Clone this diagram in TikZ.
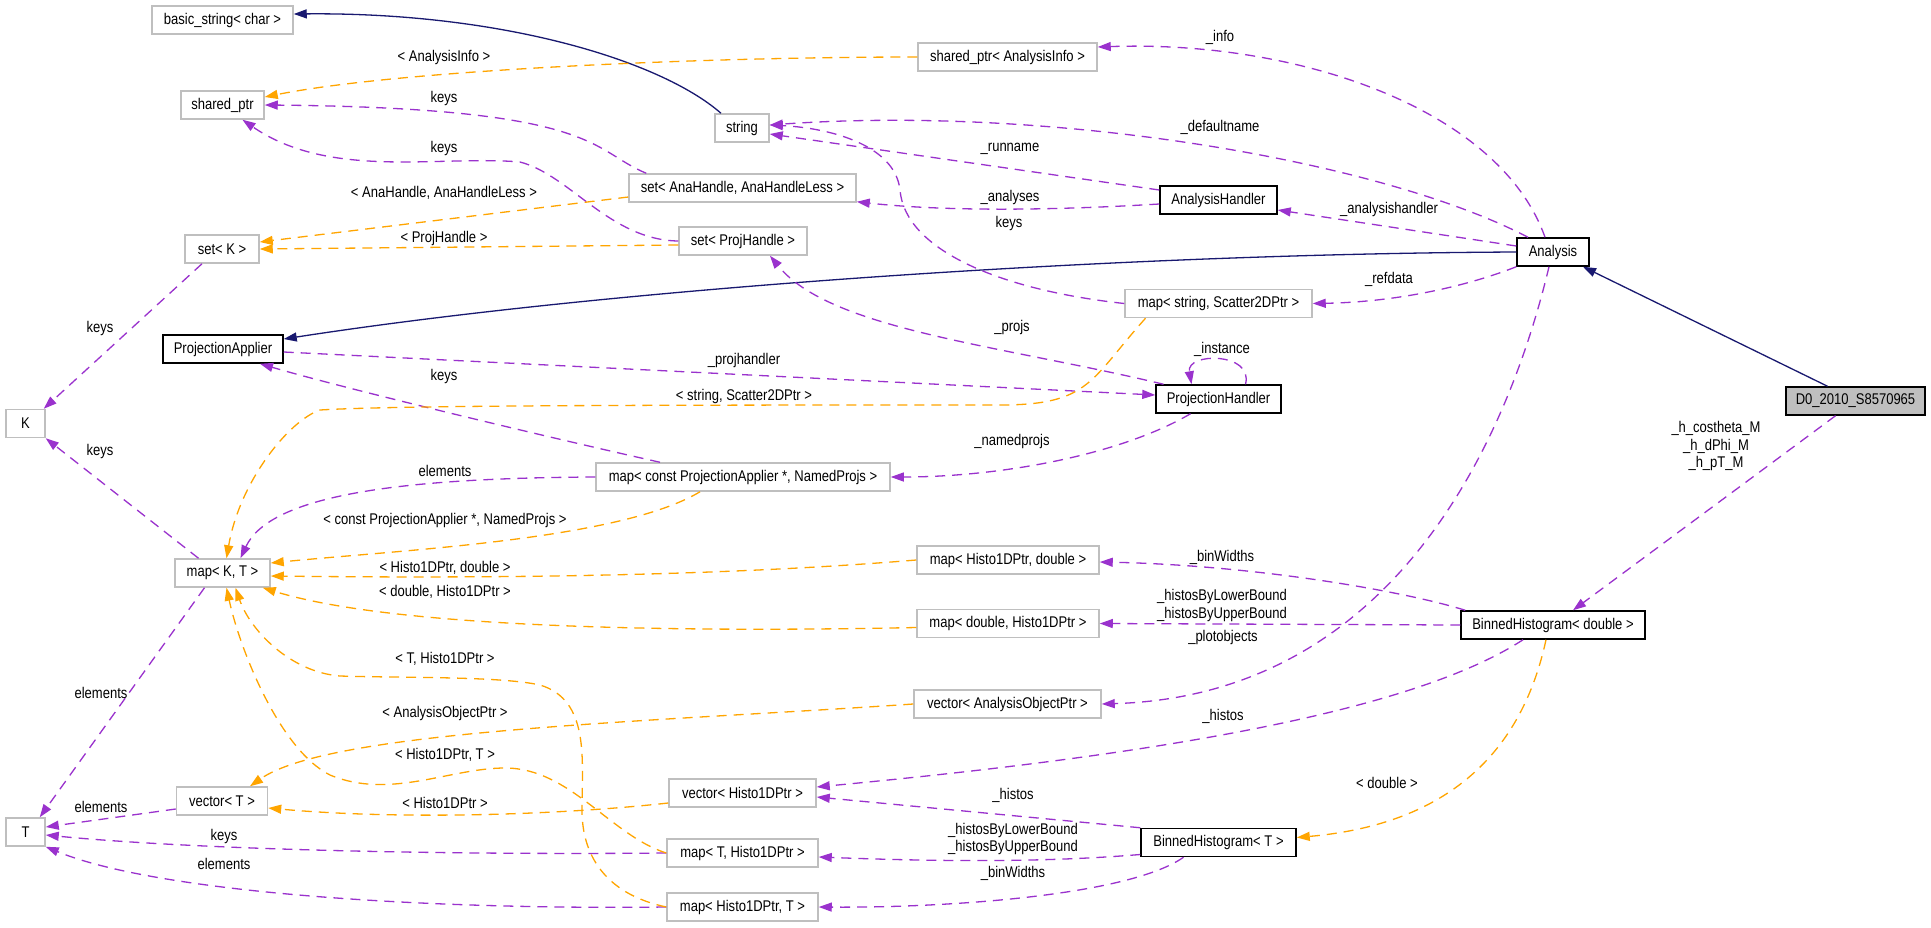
\documentclass[tikz,border=0pt]{standalone}
\usepackage{fontspec}
\setmainfont{Liberation Sans}[FakeStretch=0.84]
\usetikzlibrary{arrows.meta}
\definecolor{edgepurple}{HTML}{9A32CD}
\definecolor{edgeorange}{HTML}{FFA500}
\definecolor{edgeblue}{HTML}{191970}
\definecolor{boxgray}{HTML}{BFBFBF}
\begin{document}
\begin{tikzpicture}[x=1pt,y=-1pt,
  font=\fontsize{15.5}{17.5}\selectfont,
  box/.style={draw=boxgray, line width=1.5pt, fill=white, minimum height=28pt, inner sep=0pt},
  docbox/.style={box, draw=black},
  tip/.style={-{Triangle[length=13pt,width=9pt]}},
  pe/.style={draw=edgepurple, line width=1.3pt, dash pattern=on 10pt off 7pt, tip},
  oe/.style={draw=edgeorange, line width=1.3pt, dash pattern=on 10pt off 7pt, tip},
  be/.style={draw=edgeblue, line width=1.3pt, tip},
  lbl/.style={inner sep=0pt, align=center}]
\useasboundingbox (0,0) rectangle (1931,927);
\fill[white] (0,0) rectangle (1931,927);

% ---------- nodes ----------
\node[box, minimum width=141pt] (bs) at (222.5,20) {basic\_string< char >};
\node[box, minimum width=83pt] (sp) at (222.5,105) {shared\_ptr};
\node[box, minimum width=74pt] (setK) at (222,249) {set< K >};
\node[box, minimum width=39pt] (K) at (25.5,423.5) {K};
\node[docbox, minimum width=120pt] (PA) at (223,349) {ProjectionApplier};
\node[box, minimum width=95pt] (mapKT) at (222.5,573) {map< K, T >};
\node[box, minimum width=91pt] (vecT) at (222,801) {vector< T >};
\node[box, minimum width=39pt] (T) at (25.5,832) {T};
\node[box, minimum width=54pt] (str) at (742,128) {string};
\node[box, minimum width=179pt] (spAI) at (1007.5,57) {shared\_ptr< AnalysisInfo >};
\node[box, minimum width=227pt] (setAH) at (742.5,188) {set< AnaHandle, AnaHandleLess >};
\node[box, minimum width=128pt] (setPH) at (743,241) {set< ProjHandle >};
\node[docbox, minimum width=117pt] (AH) at (1218.5,200) {AnalysisHandler};
\node[docbox, minimum width=72pt] (An) at (1553,252) {Analysis};
\node[box, minimum width=187pt] (mapSS) at (1218.5,303.5) {map< string, Scatter2DPtr >};
\node[docbox, minimum width=125pt] (PH) at (1218.5,399) {ProjectionHandler};
\node[docbox, fill=boxgray, minimum width=139pt] (D0) at (1855.5,401) {D0\_2010\_S8570965};
\node[box, minimum width=294pt] (mapPA) at (743,477) {map< const ProjectionApplier *, NamedProjs >};
\node[box, minimum width=182pt] (mapHd) at (1008,560) {map< Histo1DPtr, double >};
\node[box, minimum width=182pt] (mapdH) at (1008,623.5) {map< double, Histo1DPtr >};
\node[box, minimum width=187pt] (vecAO) at (1007.5,704) {vector< AnalysisObjectPtr >};
\node[docbox, minimum width=184pt] (BHd) at (1553,625) {BinnedHistogram< double >};
\node[box, minimum width=147pt] (vecH) at (742.5,793) {vector< Histo1DPtr >};
\node[box, minimum width=151pt] (mapTH) at (742.5,853) {map< T, Histo1DPtr >};
\node[box, minimum width=151pt] (mapHT) at (742.5,907) {map< Histo1DPtr, T >};
\node[docbox, minimum width=155pt] (BHT) at (1218.5,842.5) {BinnedHistogram< T >};

% ---------- inheritance (blue) ----------
\draw[be] ([xshift=-21pt]str.north) .. controls (660,60) and (500,12) .. ([yshift=6pt]bs.east);
\draw[be] (An.west) .. controls (1100,254) and (600,290) .. ([yshift=10pt]PA.east);
\draw[be] ([xshift=-28pt]D0.north) -- ([xshift=30pt]An.south);

% ---------- usage (purple) ----------
\draw[pe] ([xshift=-8pt]An.north) .. controls (1500,110) and (1300,40) .. ([yshift=10pt]spAI.east);
\draw[pe] ([xshift=-25pt]An.north) .. controls (1380,160) and (1050,105) .. ([yshift=3pt]str.east);
\draw[pe] ([yshift=10pt]AH.west) -- ([yshift=-6pt]str.east);
\draw[pe] ([yshift=-4pt]AH.west) .. controls (1060,210) and (950,212) .. ([yshift=1pt]setAH.south east);
\draw[pe] ([yshift=6pt]An.west) -- ([yshift=-10pt]AH.east);
\draw[pe] (An.south west) .. controls (1470,285) and (1400,302) .. (mapSS.east);
\draw[pe] (mapSS.west) .. controls (1000,290) and (905,250) .. (900,190) .. controls (895,145) and (830,128) .. ([yshift=3pt]str.east);
\draw[pe] ([xshift=-55pt]PH.north) .. controls (1000,345) and (830,330) .. ([xshift=27pt]setPH.south);
\draw[pe] ([xshift=27pt]PH.north) .. controls (1254,352) and (1186,352) .. ([xshift=-27pt]PH.north);
\draw[pe] ([yshift=-3pt]PA.east) -- ([yshift=4pt]PH.west);
\draw[pe] ([xshift=-83pt]mapPA.north) .. controls (560,440) and (350,390) .. ([xshift=37pt]PA.south);
\draw[pe] ([xshift=-28pt]PH.south) .. controls (1120,455) and (1000,477) .. (mapPA.east);
\draw[pe] (mapPA.west) .. controls (400,478) and (270,495) .. ([xshift=18pt]mapKT.north);
\draw[pe] ([xshift=-24pt]mapKT.north) -- (K.south east);
\draw[pe] ([xshift=-20pt]setK.south) -- ([xshift=-2pt]K.north east);
\draw[pe] ([xshift=-18pt]mapKT.south) -- ([xshift=-6pt]T.north east);
\draw[pe] ([yshift=-8pt]vecT.west) -- ([yshift=5pt]T.east);
\draw[pe] (mapTH.west) .. controls (450,855) and (200,850) .. ([yshift=-3pt]T.east);
\draw[pe] (mapHT.west) .. controls (400,910) and (150,890) .. (T.south east);
\draw[pe] ([xshift=-4pt]An.south) .. controls (1510,430) and (1400,695) .. (vecAO.east);
\draw[pe] ([xshift=5pt]BHd.north west) .. controls (1400,590) and (1250,565) .. ([yshift=-2pt]mapHd.east);
\draw[pe] (BHd.west) -- (mapdH.east);
\draw[pe] ([xshift=-30pt]BHd.south) .. controls (1400,720) and (1100,760) .. ([yshift=6pt]vecH.east);
\draw[pe] (BHT.north west) -- ([yshift=-4pt]vecH.east);
\draw[pe] ([yshift=-12pt]BHT.west) .. controls (1050,862) and (950,862) .. ([yshift=-4pt]mapTH.east);
\draw[pe] ([xshift=-35pt]BHT.south) .. controls (1130,895) and (950,908) .. (mapHT.east);
\draw[pe] ([xshift=-20pt]D0.south) -- ([xshift=20pt]BHd.north);
\draw[pe] ([xshift=18pt]setAH.north west) .. controls (590,150) and (600,108) .. (sp.east);
\draw[pe] (setPH.west) .. controls (610,240) and (570,175) .. (520,162) .. controls (440,155) and (330,180) .. ([xshift=20pt]sp.south);

% ---------- template instances (orange) ----------
\draw[oe] (spAI.west) .. controls (700,57) and (400,70) .. ([yshift=8pt]sp.east);
\draw[oe] ([yshift=-9pt]setAH.west) -- ([yshift=7pt]setK.east);
\draw[oe] ([yshift=-4pt]setPH.west) -- (setK.east);
\draw[oe] ([xshift=-73pt]mapSS.south) .. controls (1090,380) and (1090,405) .. (1000,405) .. controls (700,405) and (400,405) .. (320,410) .. controls (290,420) and (240,480) .. ([xshift=4pt]mapKT.north);
\draw[oe] ([xshift=-43pt]mapPA.south) .. controls (620,540) and (400,550) .. ([yshift=10pt]mapKT.east);
\draw[oe] (mapHd.west) .. controls (700,578) and (450,578) .. ([yshift=-3pt]mapKT.east);
\draw[oe] ([yshift=-4pt]mapdH.west) .. controls (700,632) and (400,630) .. ([xshift=-8pt]mapKT.south east);
\draw[oe] (mapHT.west) .. controls (610,895) and (582,860) .. (582,810) .. controls (582,760) and (590,700) .. (540,685) .. controls (500,676) and (400,678) .. (340,676) .. controls (290,672) and (250,630) .. ([xshift=13pt]mapKT.south);
\draw[oe] (mapTH.west) .. controls (610,835) and (570,768) .. (505,768) .. controls (450,768) and (390,800) .. (330,775) .. controls (280,750) and (240,650) .. ([xshift=4pt]mapKT.south);
\draw[oe] (vecAO.west) .. controls (650,722) and (330,730) .. ([xshift=28pt]vecT.north);
\draw[oe] ([yshift=-10pt]vecH.west) .. controls (560,815) and (400,820) .. ([yshift=-7pt]vecT.east);
\draw[oe] ([xshift=-7pt]BHd.south) .. controls (1520,760) and (1440,825) .. ([yshift=5pt]BHT.east);

% ---------- labels ----------
\node[lbl] (l1) at (444,57) {< AnalysisInfo >};
\node[lbl] (l2) at (444,98) {keys};
\node[lbl] (l3) at (444,148) {keys};
\node[lbl] (l4) at (444,193) {< AnaHandle, AnaHandleLess >};
\node[lbl] (l5) at (444,238) {< ProjHandle >};
\node[lbl] (l6) at (1220,37) {\_info};
\node[lbl] (l7) at (1220,127) {\_defaultname};
\node[lbl] (l8) at (1010,149) {\_runname};
\node[lbl] (l9) at (1010,197) {\_analyses};
\node[lbl] (l10) at (1009,223) {keys};
\node[lbl] (l11) at (1389,209) {\_analysishandler};
\node[lbl] (l12) at (1389,279) {\_refdata};
\node[lbl] (l13) at (1222,349) {\_instance};
\node[lbl] (l14) at (1716,446) {\_h\_costheta\_M\\\_h\_dPhi\_M\\\_h\_pT\_M};
\node[lbl] (l15) at (100,328) {keys};
\node[lbl] (l16) at (100,451) {keys};
\node[lbl] (l17) at (444,376) {keys};
\node[lbl] (l18) at (744,360) {\_projhandler};
\node[lbl] (l19) at (1012,327) {\_projs};
\node[lbl] (l20) at (744,396) {< string, Scatter2DPtr >};
\node[lbl] (l21) at (1012,441) {\_namedprojs};
\node[lbl] (l22) at (445,471) {elements};
\node[lbl] (l23) at (445,520) {< const ProjectionApplier *, NamedProjs >};
\node[lbl] (l24) at (445,568) {< Histo1DPtr, double >};
\node[lbl] (l25) at (445,592) {< double, Histo1DPtr >};
\node[lbl] (l26) at (1222,557) {\_binWidths};
\node[lbl] (l27) at (1222,605.5) {\_histosByLowerBound\\\_histosByUpperBound};
\node[lbl] (l28) at (1223,637) {\_plotobjects};
\node[lbl] (l29) at (445,659) {< T, Histo1DPtr >};
\node[lbl] (l30) at (101,693) {elements};
\node[lbl] (l31) at (445,713) {< AnalysisObjectPtr >};
\node[lbl] (l32) at (1223,716) {\_histos};
\node[lbl] (l33) at (445,755) {< Histo1DPtr, T >};
\node[lbl] (l34) at (445,803) {< Histo1DPtr >};
\node[lbl] (l35) at (1013,795) {\_histos};
\node[lbl] (l36) at (101,807) {elements};
\node[lbl] (l37) at (224,836) {keys};
\node[lbl] (l38) at (1013,839) {\_histosByLowerBound\\\_histosByUpperBound};
\node[lbl] (l39) at (224,864) {elements};
\node[lbl] (l40) at (1013,873) {\_binWidths};
\node[lbl] (l41) at (1387,783) {< double >};
\end{tikzpicture}
\end{document}
